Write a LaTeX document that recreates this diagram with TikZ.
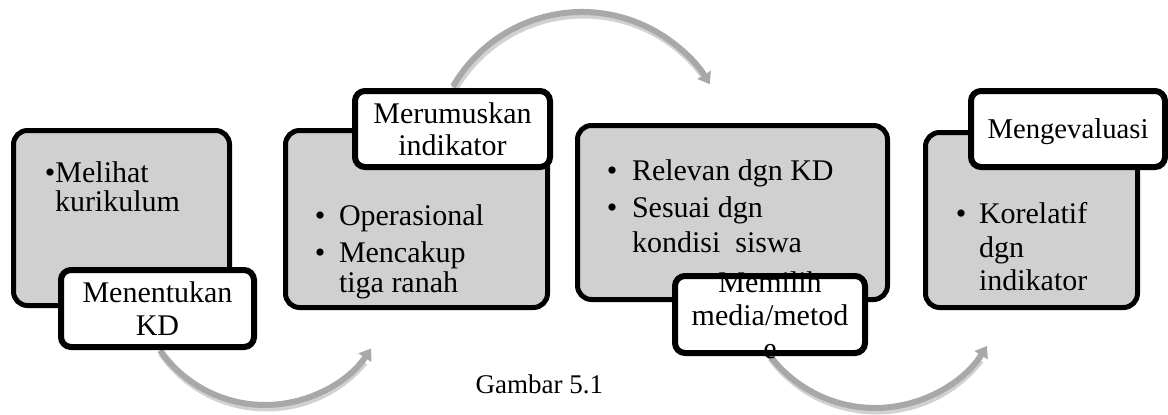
\documentclass[tikz,border=0pt]{standalone}
\usepackage{fontspec}
\setmainfont{Liberation Serif}
\usetikzlibrary{arrows.meta,shadows}
\definecolor{boxgray}{RGB}{208,208,208}
\definecolor{arcgray}{RGB}{168,168,168}
\begin{document}
\begin{tikzpicture}[x=1pt,y=-1pt,
  graybox/.style={draw=black, line width=5pt, fill=boxgray, rounded corners=14pt,
    inner sep=0pt, outer sep=0pt,
    drop shadow={shadow xshift=1.5pt, shadow yshift=-1.5pt, opacity=0.3}},
  labelbox/.style={draw=black, line width=6pt, fill=white, rounded corners=10pt,
    inner sep=0pt, outer sep=0pt,
    drop shadow={shadow xshift=2pt, shadow yshift=-2.5pt, opacity=0.35}},
  labelfill/.style={fill=white, rounded corners=10pt, inner sep=0pt, outer sep=0pt,
    drop shadow={shadow xshift=2pt, shadow yshift=-2.5pt, opacity=0.35}},
  labelborder/.style={draw=black, line width=6pt, rounded corners=10pt},
  txt/.style={font=\fontsize{30}{33}\selectfont, inner sep=0pt, outer sep=0pt},
  flow/.style={draw=arcgray, line width=6pt, -{Triangle[width=15pt,length=11pt]}},
  flowshadow/.style={draw=black, opacity=0.18, line width=7pt},
]
\useasboundingbox (0,0) rectangle (1168,415);

% arc start points
\coordinate (a1) at (160.1,350.4);
\coordinate (a2) at (453.0,86.5);
\coordinate (a3) at (769.6,355.4);

% arcs (shadows then arcs)
\draw[flowshadow] ([shift={(1.5,3)}]a1) arc[start angle=145, end angle=40, radius=128];
\draw[flowshadow] ([shift={(1.5,3)}]a2) arc[start angle=-150, end angle=-37, radius=149];
\draw[flowshadow] ([shift={(1.5,3)}]a3) arc[start angle=143, end angle=38, radius=132];
\draw[flow] (a1) arc[start angle=145, end angle=34, radius=128];
\draw[flow] (a2) arc[start angle=-150, end angle=-31, radius=149];
\draw[flow] (a3) arc[start angle=143, end angle=32, radius=132];

% gray boxes
\node[graybox, minimum width=216pt, minimum height=175pt] (b1) at (121.5,218) {};
\node[graybox, minimum width=262pt, minimum height=177pt] (b2) at (416.5,219) {};
\node[graybox, minimum width=310pt, minimum height=174pt] (b3) at (732.5,212.5) {};
\node[graybox, minimum width=212pt, minimum height=175pt] (b4) at (1031.5,220) {};

% box texts
\node[txt, anchor=base west] (t1a) at (45,182) {•Melihat};
\node[txt, anchor=base west] (t1b) at (55,211) {kurikulum};

\node[txt, anchor=base] (u2a) at (320,225) {•};
\node[txt, anchor=base west] (t2a) at (339,225) {Operasional};
\node[txt, anchor=base] (u2b) at (320,262) {•};
\node[txt, anchor=base west] (t2b) at (339,262) {Mencakup};
\node[txt, anchor=base west] (t2c) at (339,292) {tiga ranah};

\node[txt, anchor=base] (u3a) at (612,180) {•};
\node[txt, anchor=base west] (t3a) at (632,180) {Relevan dgn KD};
\node[txt, anchor=base] (u3b) at (612,217) {•};
\node[txt, anchor=base west] (t3b) at (632,217) {Sesuai dgn};
\node[txt, anchor=base west] (t3c) at (632,252) {kondisi\ \ siswa};

\node[txt, anchor=base] (u4a) at (961,223) {•};
\node[txt, anchor=base west] (t4a) at (979,223) {Korelatif};
\node[txt, anchor=base west] (t4b) at (979,257) {dgn};
\node[txt, anchor=base west] (t4c) at (979,290) {indikator};

% labels
\node[labelbox, minimum width=193pt, minimum height=77pt] (l1) at (157.5,308.5) {};
\node[txt, anchor=base] (l1a) at (157.5,302) {Menentukan};
\node[txt, anchor=base] (l1b) at (157.5,335) {KD};

\node[labelbox, minimum width=195pt, minimum height=76pt] (l2) at (452.5,129) {};
\node[txt, anchor=base] (l2a) at (452.5,123) {Merumuskan};
\node[txt, anchor=base] (l2b) at (452.5,155) {indikator};

\node[labelfill, minimum width=190pt, minimum height=77pt] (l3) at (770,314.5) {};
\node[txt, anchor=base] (l3a) at (770,292) {Memilih};
\node[txt, anchor=base] (l3b) at (770,325) {media/metod};
\node[txt, anchor=base] (l3c) at (770,358) {e};
\draw[labelborder] (l3.south west) rectangle (l3.north east);

\node[labelbox, minimum width=194pt, minimum height=76pt] (l4) at (1068,129) {};
\node[txt, anchor=base, font=\fontsize{28.7}{33}\selectfont] (l4a) at (1068,138) {Mengevaluasi};

% caption
\node[txt, anchor=base east, font=\fontsize{27}{30}\selectfont] (cap) at (603,393) {Gambar 5.1};
\end{tikzpicture}
\end{document}
